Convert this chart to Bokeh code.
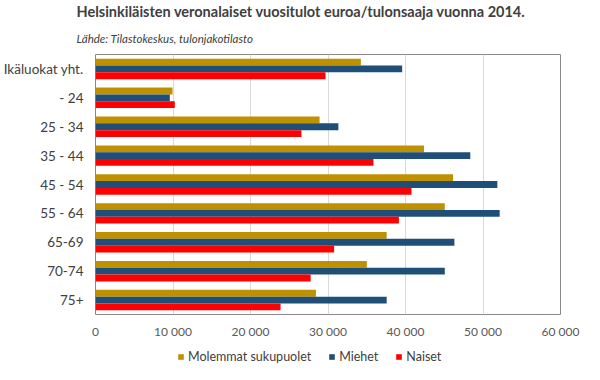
from bokeh.plotting import figure
from bokeh.layouts import column
from bokeh.models import (ColumnDataSource, FactorRange, Range1d, Title, Legend, LegendItem,
                          SingleIntervalTicker, CustomJSTickFormatter)
from bokeh.transform import dodge
from bokeh.embed import file_html
from bokeh.resources import INLINE

categories = ["Ikäluokat yht.", "- 24", "25 - 34", "35 - 44", "45 - 54", "55 - 64", "65-69", "70-74", "75+"]
molemmat = [34240, 9940, 28910, 42390, 46140, 45070, 37570, 35010, 28440]
miehet = [39570, 9590, 31340, 48360, 51850, 52150, 46310, 45070, 37570]
naiset = [29680, 10230, 26570, 35860, 40770, 39150, 30790, 27760, 23880]
series_names = ["Molemmat sukupuolet", "Miehet", "Naiset"]
colors = ["#BF9000", "#1F4E79", "#FF0000"]

FONT = "Lato"
src = ColumnDataSource(dict(cat=categories, mol=molemmat, mie=miehet, nai=naiset))
cols = ["mol", "mie", "nai"]
offsets = [0.236, 0.0, -0.236]

p = figure(width=584, height=346, output_backend="svg", toolbar_location=None,
           y_range=FactorRange(factors=list(reversed(categories))), x_range=Range1d(0, 60000),
           min_border_left=91, min_border_right=24, min_border_top=48, min_border_bottom=32)

for c, off, col in zip(cols, offsets, colors):
    p.hbar(y=dodge("cat", off, range=p.y_range), right=c, left=0, height=0.236,
           source=src, fill_color=col, line_color=None)

p.outline_line_color = "#898989"
p.outline_line_width = 1
p.ygrid.grid_line_color = None
p.xgrid.grid_line_color = "#D9D9D9"

p.xaxis.ticker = SingleIntervalTicker(interval=10000)
p.xaxis.formatter = CustomJSTickFormatter(code=r"""
return tick.toFixed(0).replace(/\B(?=(\d{3})+(?!\d))/g, ' ');
""")
for ax in (p.xaxis[0], p.yaxis[0]):
    ax.axis_line_color = None
    ax.major_tick_line_color = None
    ax.minor_tick_line_color = None
    ax.major_label_text_font = FONT
p.xaxis.major_label_text_color = "#595959"
p.yaxis.major_label_text_color = "#404040"
p.xaxis.major_label_text_font_size = "12px"
p.xaxis.major_label_standoff = 3
p.yaxis.major_label_text_font_size = "13.5px"
p.yaxis.major_label_standoff = 6

p.add_layout(Title(text="Lähde: Tilastokeskus, tulonjakotilasto", text_font=FONT,
                   text_font_style="italic", text_font_size="11.5px", text_color="#404040",
                   offset=-19, standoff=20), "above")
p.add_layout(Title(text="Helsinkiläisten veronalaiset vuositulot euroa/tulonsaaja vuonna 2014.",
                   text_font=FONT, text_font_style="bold", text_font_size="14.5px",
                   text_color="#404040", offset=-19, standoff=0), "above")

# legend strip below the chart, with the same side borders so frames align;
# its bars have zero height (draw nothing), only the legend glyphs show
lf = figure(width=584, height=18, output_backend="svg", toolbar_location=None,
            y_range=FactorRange(factors=list(reversed(categories))), x_range=Range1d(0, 60000),
            x_axis_type=None, y_axis_type=None,
            min_border_left=91, min_border_right=24, min_border_top=0, min_border_bottom=0)
lf.outline_line_color = None
lf.grid.visible = False
items = []
for c, name, col in zip(cols, series_names, colors):
    r = lf.hbar(y="cat", right=c, left=0, height=0, source=src, fill_color=col, line_color=None)
    items.append(LegendItem(label=name, renderers=[r]))
legend = Legend(items=items, orientation="horizontal", location=(82, 0), border_line_color=None,
                background_fill_alpha=0,
                label_text_font=FONT, label_text_font_size="12.5px", label_text_color="#404040",
                glyph_width=7, glyph_height=7, spacing=17, label_standoff=4, padding=0, margin=0)
lf.add_layout(legend)

layout = column(p, lf, spacing=0)
open("out.html", "w").write(file_html(layout, INLINE))
